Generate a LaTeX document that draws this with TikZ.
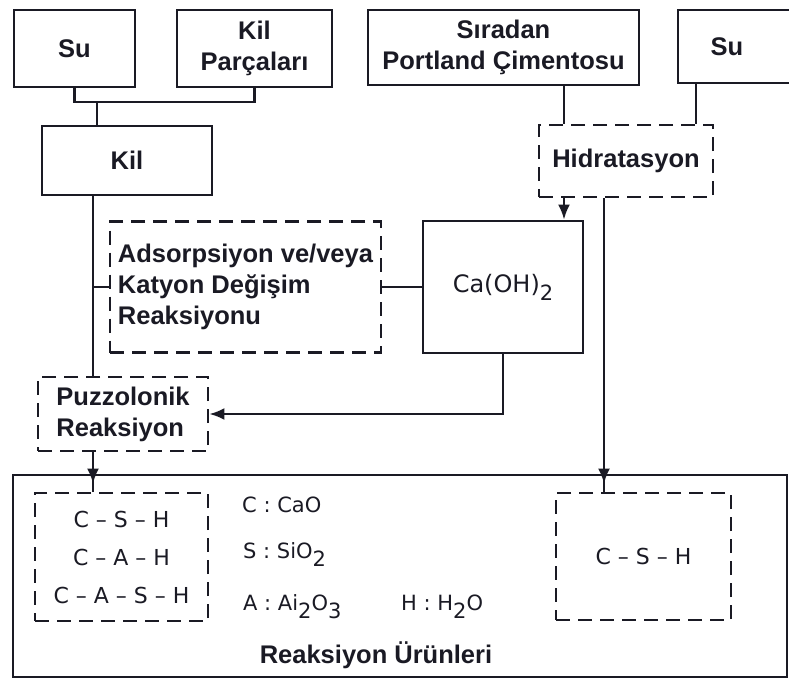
\documentclass[tikz,border=0pt]{standalone}
\usepackage{fontspec}
\setmainfont{Liberation Sans}
\newfontfamily\chemfont{DejaVu Sans}
\usetikzlibrary{arrows.meta,decorations.markings}
\definecolor{ink}{HTML}{1A1A24}
\newcommand\lowsub[1]{\raisebox{-8pt}{\fontsize{21}{21}\selectfont #1}}
\begin{document}
\begin{tikzpicture}[x=1pt,y=-1pt,
  solidbox/.style={draw=ink, line width=2.8pt, inner sep=0pt, font=\bfseries\fontsize{25.5}{31}\selectfont, text=ink, align=center},
  dashbox/.style={solidbox, dash pattern=on 14pt off 8pt},
  chem/.style={font=\chemfont\fontsize{21}{26}\selectfont, text=ink, inner sep=0pt},
  conn/.style={draw=ink, line width=2.4pt},
  arr/.style={conn, -{Latex[length=15pt,width=12pt]}},
  midarr/.style={conn, postaction={decorate}, decoration={markings, mark=at position -8pt with {\arrow{Latex[length=15pt,width=12pt]}}}},
]
\useasboundingbox (0,0) rectangle (789,680);
\fill[white] (0,0) rectangle (789,680);
\clip (0,0) rectangle (789,680);

% top row
\node[solidbox, minimum width=121pt, minimum height=77pt] (su1) at (74.5,48.5) {Su};
\node[solidbox, minimum width=155pt, minimum height=77pt] (kp) at (254.5,48.5) {Kil\\Parçaları};
\node[solidbox, minimum width=271pt, minimum height=75pt] (spc) at (503.5,47.5) {Sıradan\\Portland Çimentosu};
\node[solidbox, minimum width=132pt, minimum height=73pt] (su2) at (744,46.5) {Su\hspace*{34pt}};

% second row
\node[solidbox, minimum width=170pt, minimum height=69pt] (kil) at (127,160.5) {Kil};
\node[dashbox, minimum width=174pt, minimum height=72pt] (hid) at (626,161) {Hidratasyon};

% middle
\node[dashbox, minimum width=271pt, minimum height=131pt, align=left] (ads) at (245.5,287) {Adsorpsiyon ve/veya\\Katyon Değişim\\Reaksiyonu};
\node[solidbox, minimum width=160pt, minimum height=132pt, font=\chemfont\fontsize{24}{30}\selectfont] (ca) at (503,287) {Ca(OH)\lowsub{2}};
\node[dashbox, minimum width=170pt, minimum height=74pt, align=left] (puzz) at (123,414) {Puzzolonik\\Reaksiyon};

% products
\node[solidbox, minimum width=774pt, minimum height=202pt] (big) at (400,576) {};
\node[dashbox, minimum width=173pt, minimum height=128pt, font=\chemfont\fontsize{22}{38}\selectfont] (csh1) at (121.5,557) {C – S – H\\C – A – H\\C – A – S – H};
\node[dashbox, minimum width=175pt, minimum height=127pt, font=\chemfont\fontsize{22}{26}\selectfont] (csh2) at (643.5,556.5) {C – S – H};

\node[chem, anchor=west] (lC) at (242,505) {C : CaO};
\node[chem, anchor=west] (lS) at (243,555) {S : SiO\lowsub{2}};
\node[chem, anchor=west] (lA) at (243,607) {A : Ai\lowsub{2}O\lowsub{3}};
\node[chem, anchor=west] (lH) at (401,607) {H : H\lowsub{2}O};
\node[font=\bfseries\fontsize{25.5}{31}\selectfont, text=ink, inner sep=0pt] (ru) at (376,655) {Reaksiyon Ürünleri};

% connectors
\coordinate (vx) at (93,0);
\coordinate (j1) at (97,102);
\coordinate (hx1) at (564,0);
\coordinate (hx2) at (604,0);
\coordinate (sx2) at (696,0);

\draw[conn] (su1.south) |- (j1) -| (kp.south);
\draw[conn] (j1) -- (j1 |- kil.north);
\draw[conn] (kil.south -| vx) -- (puzz.north -| vx);
\draw[conn] (vx |- ads.west) -- (ads.west);
\draw[conn] (ads.east) -- (ca.west);
\draw[conn] (spc.south -| hx1) -- (hid.north -| hx1);
\draw[conn] (su2.south -| sx2) -- (hid.north -| sx2);
\draw[arr] (hid.south -| hx1) -- (ca.north -| hx1);
\draw[midarr] (hid.south -| hx2) -- (csh2.north -| hx2);
\draw[arr] (ca.south) |- (puzz.east);
\draw[midarr] (puzz.south -| vx) -- (csh1.north -| vx);
\end{tikzpicture}
\end{document}
